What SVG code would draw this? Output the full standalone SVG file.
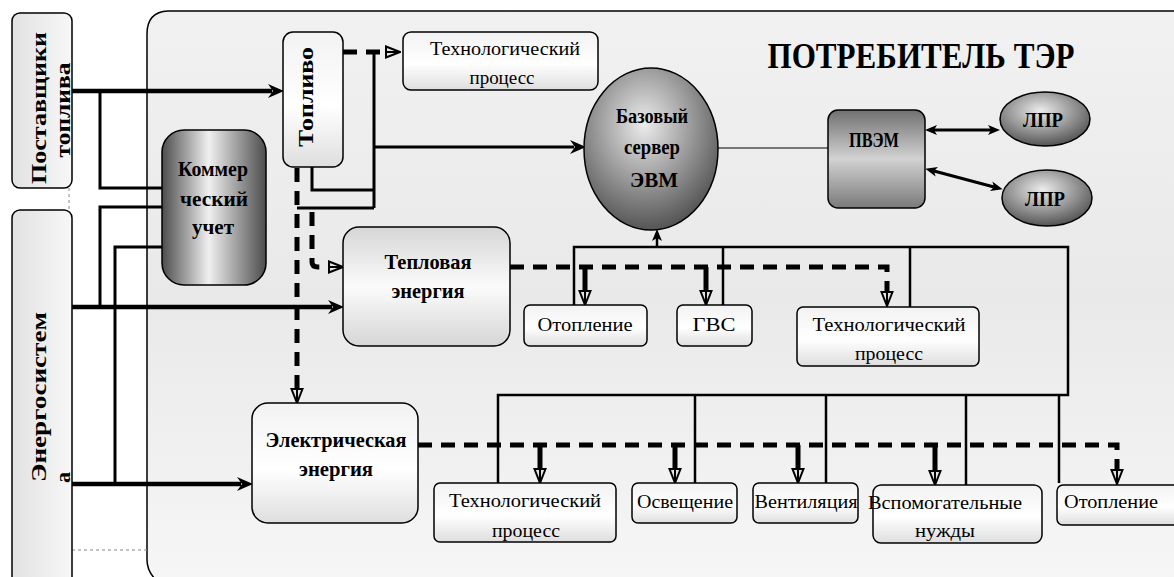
<svg xmlns="http://www.w3.org/2000/svg" width="1174" height="577" viewBox="0 0 1174 577">
<defs>
<linearGradient id="bgGrad" x1="0" y1="0" x2="0" y2="1"><stop offset="0" stop-color="#f1f1f1"/><stop offset="0.5" stop-color="#e9e9e9"/><stop offset="1" stop-color="#f6f6f6"/></linearGradient>
<linearGradient id="boxGrad" x1="0" y1="0" x2="0" y2="1"><stop offset="0" stop-color="#d6d6d6"/><stop offset="0.5" stop-color="#fbfbfb"/><stop offset="1" stop-color="#d6d6d6"/></linearGradient>
<linearGradient id="smallGrad" x1="0" y1="0" x2="0" y2="1"><stop offset="0" stop-color="#f2f2f2"/><stop offset="0.55" stop-color="#ffffff"/><stop offset="1" stop-color="#dedede"/></linearGradient>
<linearGradient id="sideGrad" x1="0" y1="0" x2="1" y2="0"><stop offset="0" stop-color="#e2e2e2"/><stop offset="1" stop-color="#f7f7f7"/></linearGradient>
<linearGradient id="cylGrad" x1="0" y1="0" x2="1" y2="0"><stop offset="0" stop-color="#4c4c4c"/><stop offset="0.45" stop-color="#f0f0f0"/><stop offset="1" stop-color="#4c4c4c"/></linearGradient>
<radialGradient id="ellGrad" cx="0.45" cy="0.35" r="0.65"><stop offset="0" stop-color="#ececec"/><stop offset="1" stop-color="#555555"/></radialGradient>
<linearGradient id="pvemGrad" x1="0" y1="0" x2="0" y2="1"><stop offset="0" stop-color="#707070"/><stop offset="0.5" stop-color="#d2d2d2"/><stop offset="1" stop-color="#7a7a7a"/></linearGradient>
<marker id="arr" markerUnits="userSpaceOnUse" markerWidth="16" markerHeight="14" viewBox="0 0 16 14" refX="4" refY="7" orient="auto"><path d="M0,0 L16,7 L0,14 L5,7 Z" fill="#000"/></marker>
<marker id="arrS" markerUnits="userSpaceOnUse" markerWidth="12" markerHeight="10" viewBox="0 0 12 10" refX="3" refY="5" orient="auto-start-reverse"><path d="M0,0 L12,5 L0,10 L3,5 Z" fill="#000"/></marker>
<marker id="open" markerUnits="userSpaceOnUse" markerWidth="16" markerHeight="14" viewBox="0 0 16 14" refX="1" refY="7" orient="auto"><path d="M1,1.5 L15,7 L1,12.5 Z" fill="#e4e4e4" stroke="#000" stroke-width="2"/><path d="M1,7 H15" stroke="#000" stroke-width="2"/></marker>
<style>
text{font-family:'Liberation Serif','Times New Roman',serif}
.bx{stroke:#000;stroke-width:1.5}
.t{fill:#000;text-anchor:middle}
.b{font-weight:bold}
.thick{fill:none;stroke:#000;stroke-width:4.5}
.mid{fill:none;stroke:#000;stroke-width:3}
.bus{fill:none;stroke:#000;stroke-width:2.5}
.dash{fill:none;stroke:#000;stroke-width:5;stroke-dasharray:14 9}
.stem{fill:none;stroke:#000;stroke-width:5}
.thin{fill:none;stroke:#000;stroke-width:1.2}
.dot{fill:none;stroke:#888;stroke-width:1;stroke-dasharray:3 3}
</style>
</defs>
<rect width="1174" height="577" fill="#fff"/>
<g id="container">
<path d="M158,582 Q147,572 147,560 L147,34 Q147,12 168,11 L1180,11 L1180,582 Z" fill="url(#bgGrad)" stroke="#000" stroke-width="1.5"/>
<text class="t b" x="921" y="68" font-size="36" textLength="307" lengthAdjust="spacingAndGlyphs">ПОТРЕБИТЕЛЬ ТЭР</text>
</g>
<g id="dotted">
<path class="dot" d="M69,188 V210"/>
<path class="dot" d="M72,550 H147"/>
</g>
<g id="connectors">
<path class="thick" d="M72,91 H272" marker-end="url(#arr)"/>
<path class="mid" d="M100,91 V188 H162"/>
<path class="mid" d="M162,207 H100 V307"/>
<path class="mid" d="M162,247 H115 V484"/>
<path class="thick" d="M72,307 H332" marker-end="url(#arr)"/>
<path class="thick" d="M72,484 H241" marker-end="url(#arr)"/>
<path class="dash" d="M343,52 H386" marker-end="url(#open)"/>
<path class="mid" d="M374,52 V208"/>
<path class="mid" d="M374,147 H574" marker-end="url(#arr)"/>
<path class="mid" d="M312,167 V190 H374"/>
<path class="mid" d="M297,208 H374"/>
<path class="dash" d="M297,168 V389" marker-end="url(#open)"/>
<path class="dash" d="M312,212 V262 Q312,267 318,267 H329" marker-end="url(#open)"/>
<path class="dash" d="M510,267 H887 V292" marker-end="url(#open)"/>
<path class="stem" d="M585,267 V291" marker-end="url(#open)"/>
<path class="stem" d="M706,267 V291" marker-end="url(#open)"/>
<path class="bus" d="M574,305 V247 H1068 V395 H498 V483"/>
<path class="bus" d="M723,247 V305"/>
<path class="bus" d="M910,247 V307"/>
<path class="bus" d="M657,247 V238" marker-end="url(#arrS)"/>
<path class="bus" d="M695,395 V483"/>
<path class="bus" d="M826,395 V483"/>
<path class="bus" d="M966,395 V488"/>
<path class="bus" d="M1059,395 V483"/>
<path class="dash" d="M418,445 H1117 V470" marker-end="url(#open)"/>
<path class="stem" d="M540,445 V469" marker-end="url(#open)"/>
<path class="stem" d="M675,445 V469" marker-end="url(#open)"/>
<path class="stem" d="M798,445 V469" marker-end="url(#open)"/>
<path class="stem" d="M935,445 V471" marker-end="url(#open)"/>
<path class="thin" d="M718,148 H828"/>
<path class="mid" d="M934,130 H991" marker-start="url(#arrS)" marker-end="url(#arrS)"/>
<path class="mid" d="M934,171 L994,187" marker-start="url(#arrS)" marker-end="url(#arrS)"/>
</g>
<g id="postavshiki">
<rect class="bx" x="12" y="13" width="60" height="175" rx="8" fill="url(#sideGrad)"/>
<text class="t b" transform="translate(46,108) rotate(-90)" font-size="22" textLength="152" lengthAdjust="spacingAndGlyphs">Поставщики</text>
<text class="t b" transform="translate(70,110) rotate(-90)" font-size="22" textLength="95" lengthAdjust="spacingAndGlyphs">топлива</text>
</g>
<g id="energosistema">
<rect class="bx" x="12" y="210" width="60" height="380" rx="8" fill="url(#sideGrad)"/>
<text class="t b" transform="translate(46,397) rotate(-90)" font-size="22" textLength="170" lengthAdjust="spacingAndGlyphs">Энергосистем</text>
<text class="t b" transform="translate(70,483) rotate(-90)" font-size="22" style="text-anchor:start">а</text>
</g>
<g id="kommer">
<rect class="bx" x="162" y="130" width="104" height="155" rx="22" fill="url(#cylGrad)"/>
<text class="t b" x="213" y="176" font-size="22" textLength="70" lengthAdjust="spacingAndGlyphs">Коммер</text>
<text class="t b" x="214" y="206" font-size="22" textLength="68" lengthAdjust="spacingAndGlyphs">ческий</text>
<text class="t b" x="213" y="234" font-size="22" textLength="42" lengthAdjust="spacingAndGlyphs">учет</text>
</g>
<g id="toplivo">
<rect class="bx" x="283" y="32" width="60" height="135" rx="10" fill="url(#smallGrad)"/>
<text class="t b" transform="translate(313,97) rotate(-90)" font-size="22" textLength="100" lengthAdjust="spacingAndGlyphs">Топливо</text>
</g>
<g id="tech-top">
<rect class="bx" x="403" y="32" width="195" height="58" rx="8" fill="url(#smallGrad)"/>
<text class="t" x="505" y="55" font-size="19" textLength="150" lengthAdjust="spacingAndGlyphs">Технологический</text>
<text class="t" x="502" y="84" font-size="19" textLength="65" lengthAdjust="spacingAndGlyphs">процесс</text>
</g>
<g id="server">
<ellipse class="bx" cx="651" cy="149" rx="67" ry="81" fill="url(#ellGrad)"/>
<text class="t b" x="652" y="123" font-size="20" textLength="72" lengthAdjust="spacingAndGlyphs">Базовый</text>
<text class="t b" x="652" y="154" font-size="20" textLength="56" lengthAdjust="spacingAndGlyphs">сервер</text>
<text class="t b" x="654" y="187" font-size="20" textLength="48" lengthAdjust="spacingAndGlyphs">ЭВМ</text>
</g>
<g id="pvem">
<rect class="bx" x="828" y="110" width="97" height="98" rx="10" fill="url(#pvemGrad)"/>
<text class="t b" x="874" y="147" font-size="20" textLength="50" lengthAdjust="spacingAndGlyphs">ПВЭМ</text>
</g>
<g id="lpr1">
<ellipse class="bx" cx="1045" cy="119" rx="45" ry="27" fill="url(#ellGrad)"/>
<text class="t b" x="1043" y="127" font-size="20" textLength="40" lengthAdjust="spacingAndGlyphs">ЛПР</text>
</g>
<g id="lpr2">
<ellipse class="bx" cx="1047" cy="198" rx="45" ry="28" fill="url(#ellGrad)"/>
<text class="t b" x="1045" y="206" font-size="20" textLength="40" lengthAdjust="spacingAndGlyphs">ЛПР</text>
</g>
<g id="teplo">
<rect class="bx" x="343" y="227" width="167" height="119" rx="16" fill="url(#boxGrad)"/>
<text class="t b" x="428" y="269" font-size="21" textLength="87" lengthAdjust="spacingAndGlyphs">Тепловая</text>
<text class="t b" x="428" y="298" font-size="21" textLength="73" lengthAdjust="spacingAndGlyphs">энергия</text>
</g>
<g id="elektro">
<rect class="bx" x="252" y="403" width="166" height="120" rx="16" fill="url(#smallGrad)"/>
<text class="t b" x="336" y="447" font-size="21" textLength="141" lengthAdjust="spacingAndGlyphs">Электрическая</text>
<text class="t b" x="336" y="476" font-size="21" textLength="74" lengthAdjust="spacingAndGlyphs">энергия</text>
</g>
<g id="otoplenie1">
<rect class="bx" x="524" y="305" width="123" height="41" rx="6" fill="url(#smallGrad)"/>
<text class="t" x="585" y="331" font-size="19" textLength="95" lengthAdjust="spacingAndGlyphs">Отопление</text>
</g>
<g id="gvs">
<rect class="bx" x="677" y="305" width="75" height="41" rx="6" fill="url(#smallGrad)"/>
<text class="t" x="714" y="331" font-size="19" textLength="43" lengthAdjust="spacingAndGlyphs">ГВС</text>
</g>
<g id="tech-mid">
<rect class="bx" x="797" y="307" width="182" height="59" rx="6" fill="url(#smallGrad)"/>
<text class="t" x="889" y="331" font-size="19" textLength="153" lengthAdjust="spacingAndGlyphs">Технологический</text>
<text class="t" x="889" y="360" font-size="19" textLength="68" lengthAdjust="spacingAndGlyphs">процесс</text>
</g>
<g id="tech-bottom">
<rect class="bx" x="434" y="483" width="182" height="59" rx="6" fill="url(#smallGrad)"/>
<text class="t" x="525" y="507" font-size="19" textLength="152" lengthAdjust="spacingAndGlyphs">Технологический</text>
<text class="t" x="526" y="537" font-size="19" textLength="68" lengthAdjust="spacingAndGlyphs">процесс</text>
</g>
<g id="osveshenie">
<rect class="bx" x="632" y="483" width="105" height="40" rx="6" fill="url(#smallGrad)"/>
<text class="t" x="685" y="508" font-size="19" textLength="96" lengthAdjust="spacingAndGlyphs">Освещение</text>
</g>
<g id="ventilyaciya">
<rect class="bx" x="753" y="483" width="105" height="40" rx="6" fill="url(#smallGrad)"/>
<text class="t" x="806" y="508" font-size="19" textLength="103" lengthAdjust="spacingAndGlyphs">Вентиляция</text>
</g>
<g id="vspomog">
<rect class="bx" x="873" y="485" width="169" height="58" rx="8" fill="url(#smallGrad)"/>
<text class="t" x="945" y="509" font-size="19" textLength="154" lengthAdjust="spacingAndGlyphs">Вспомогательные</text>
<text class="t" x="945" y="537" font-size="19" textLength="60" lengthAdjust="spacingAndGlyphs">нужды</text>
</g>
<g id="otoplenie2">
<rect class="bx" x="1057" y="485" width="130" height="40" rx="6" fill="url(#smallGrad)"/>
<text class="t" x="1111" y="508" font-size="19" textLength="94" lengthAdjust="spacingAndGlyphs">Отопление</text>
</g>
</svg>
